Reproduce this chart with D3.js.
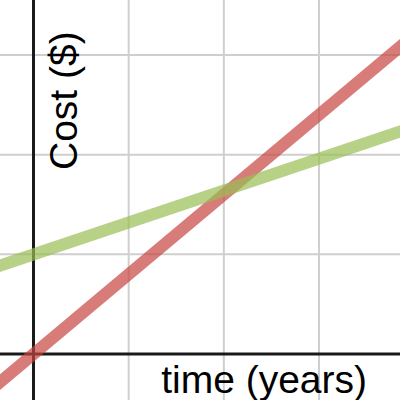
<!DOCTYPE html>
<html><head><meta charset="utf-8">
<script src="https://cdn.jsdelivr.net/npm/d3@7"></script>
<style>html,body{margin:0;padding:0;background:#fff;overflow:hidden}</style>
</head><body>
<svg id="chart" width="400" height="400"></svg>
<script>
// Data
const xGridTicks = [-1, 1, 2, 3, 4];
const yGridTicks = [-1, 1, 2, 3, 4];
const timeYears = [-0.5, 4.2];
const redCost = [-0.4, 3.36];
const greenCost = [0.84, 2.344];
const xLabel = "time (years)";
const yLabel = "Cost ($)";

const svg = d3.select("#chart");
const x = d3.scaleLinear().domain([0, 3]).range([33.5, 319]);
const y = d3.scaleLinear().domain([0, 3]).range([354, 55]);

svg.append("rect").attr("width", 400).attr("height", 400).attr("fill", "#fff");

const g = svg.append("g");
g.selectAll(".vg").data(xGridTicks).enter().append("line")
  .attr("x1", d => x(d)).attr("x2", d => x(d)).attr("y1", 0).attr("y2", 400)
  .attr("stroke", "#cfcfcf").attr("stroke-width", 2);
g.selectAll(".hg").data(yGridTicks).enter().append("line")
  .attr("y1", d => y(d)).attr("y2", d => y(d)).attr("x1", 0).attr("x2", 400)
  .attr("stroke", "#cfcfcf").attr("stroke-width", 2);

// axes
g.append("line").attr("x1", x(0)).attr("x2", x(0)).attr("y1", 0).attr("y2", 400)
  .attr("stroke", "#1a1a1a").attr("stroke-width", 3);
g.append("line").attr("y1", y(0)).attr("y2", y(0)).attr("x1", 0).attr("x2", 400)
  .attr("stroke", "#1a1a1a").attr("stroke-width", 3);

const line = d3.line().x(d => x(d[0])).y(d => y(d[1]));
svg.append("path").datum(d3.zip(timeYears, redCost)).attr("d", line)
  .attr("fill", "none").attr("stroke", "#c74440").attr("stroke-opacity", 0.7).attr("stroke-width", 12);
svg.append("path").datum(d3.zip(timeYears, greenCost)).attr("d", line)
  .attr("fill", "none").attr("stroke", "#98bd54").attr("stroke-opacity", 0.7).attr("stroke-width", 12);

svg.append("text").attr("x", 367).attr("y", 393).attr("text-anchor", "end")
  .attr("font-family", "Liberation Sans, Arial, sans-serif").attr("font-size", 39)
  .attr("fill", "#000").text(xLabel);
svg.append("text").attr("transform", "translate(77,170) rotate(-90)")
  .attr("font-family", "Liberation Sans, Arial, sans-serif").attr("font-size", 39)
  .attr("fill", "#000").text(yLabel);
</script>
</body></html>
